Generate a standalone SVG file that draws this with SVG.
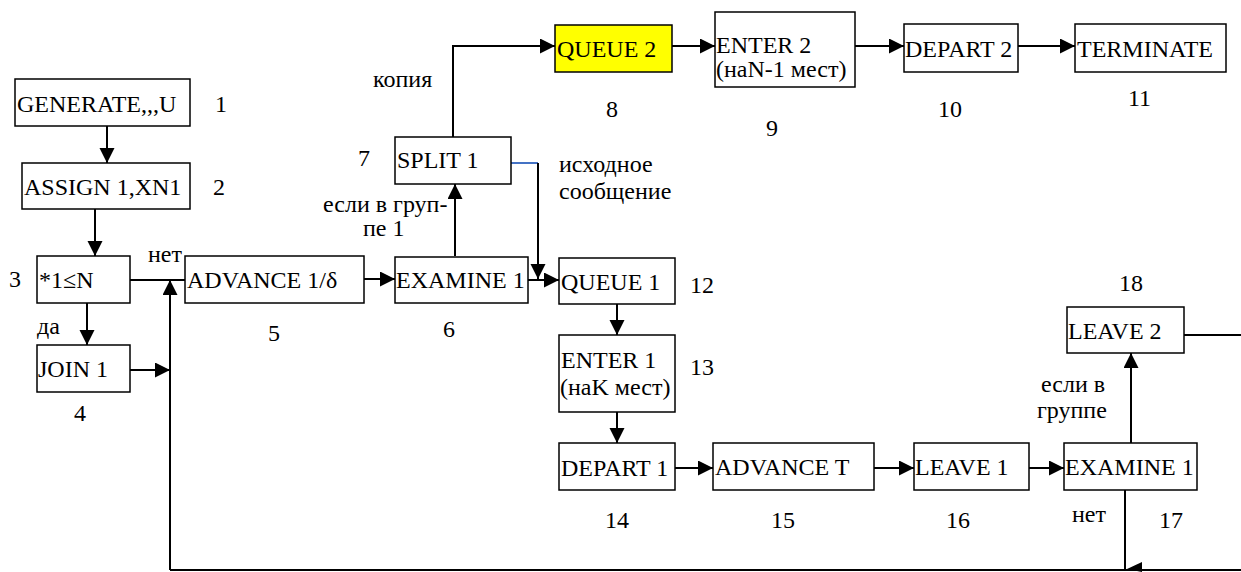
<svg xmlns="http://www.w3.org/2000/svg" width="1241" height="572" viewBox="0 0 1241 572">
<defs>
<marker id="ah" markerUnits="userSpaceOnUse" markerWidth="16" markerHeight="16" refX="15" refY="7.5" orient="auto">
<path d="M0,0 L15,7.5 L0,15 z" fill="#000"/>
</marker>
</defs>
<style>
.t text{font-family:"Liberation Serif","Times New Roman",serif;font-size:24px;fill:#000}
.box rect{fill:#fff;stroke:#000;stroke-width:1.5}
.ln{fill:none;stroke:#000;stroke-width:2}
.ar{fill:none;stroke:#000;stroke-width:2;marker-end:url(#ah)}
</style>
<rect width="1241" height="572" fill="#fff"/>
<g id="connectors">
<path class="ar" d="M107,126 V163"/>
<path class="ar" d="M95,209 V256"/>
<path class="ar" d="M87,303 V345"/>
<path class="ln" d="M130,280 H185"/>
<path class="ar" d="M130,370 H170"/>
<path class="ar" d="M170,570 V280"/>
<path class="ar" d="M364,279 H395"/>
<path class="ar" d="M455,256 V184"/>
<path class="ar" d="M453,137 V46 H555"/>
<path d="M511,163 H538" fill="none" stroke="#4472C4" stroke-width="2"/>
<path class="ar" d="M538,163 V279"/>
<path class="ar" d="M528,280 H559"/>
<path class="ar" d="M672,46 H715"/>
<path class="ar" d="M855,46 H904"/>
<path class="ar" d="M1018,46 H1075"/>
<path class="ar" d="M617,304 V335"/>
<path class="ar" d="M617,412 V443"/>
<path class="ar" d="M675,468 H713"/>
<path class="ar" d="M874,468 H914"/>
<path class="ar" d="M1029,468 H1064"/>
<path class="ar" d="M1131,443 V353"/>
<path class="ln" d="M1125,490 V570"/>
<path class="ln" d="M170,570 H1241"/>
<path class="ln" d="M1184,335 H1241"/>
<polygon points="1127,569 1142,562 1142,572" fill="#000"/>
</g>
<g class="t">
<g id="n1" class="box"><rect x="15" y="79" width="175" height="47"/><text x="17" y="112">GENERATE,,,U</text></g>
<g id="n2" class="box"><rect x="22" y="163" width="168" height="46"/><text x="24" y="195">ASSIGN 1,XN1</text></g>
<g id="n3" class="box"><rect x="37" y="256" width="93" height="47"/><text x="39" y="288">*1≤N</text></g>
<g id="n4" class="box"><rect x="37" y="345" width="93" height="47"/><text x="38" y="377">JOIN 1</text></g>
<g id="n5" class="box"><rect x="185" y="256" width="179" height="47"/><text x="187" y="288">ADVANCE 1/δ</text></g>
<g id="n6" class="box"><rect x="395" y="257" width="133" height="46"/><text x="396" y="288">EXAMINE 1</text></g>
<g id="n7" class="box"><rect x="395" y="137" width="116" height="47"/><text x="397" y="168">SPLIT 1</text></g>
<g id="n8" class="box"><rect x="555" y="25" width="117" height="47" style="fill:#ffff00"/><text x="557" y="57">QUEUE 2</text></g>
<g id="n9" class="box"><rect x="715" y="12" width="140" height="75"/><text x="716" y="53">ENTER 2</text><text x="716" y="77">(наN-1 мест)</text></g>
<g id="n10" class="box"><rect x="904" y="24" width="114" height="48"/><text x="905" y="57">DEPART 2</text></g>
<g id="n11" class="box"><rect x="1075" y="24" width="151" height="48"/><text x="1077" y="57">TERMINATE</text></g>
<g id="n12" class="box"><rect x="559" y="258" width="116" height="46"/><text x="561" y="290">QUEUE 1</text></g>
<g id="n13" class="box"><rect x="559" y="335" width="116" height="77"/><text x="561" y="368">ENTER 1</text><text x="560" y="395">(наK мест)</text></g>
<g id="n14" class="box"><rect x="559" y="443" width="116" height="47"/><text x="561" y="476">DEPART 1</text></g>
<g id="n15" class="box"><rect x="713" y="443" width="161" height="47"/><text x="715" y="475">ADVANCE T</text></g>
<g id="n16" class="box"><rect x="914" y="443" width="115" height="47"/><text x="915" y="475">LEAVE 1</text></g>
<g id="n17" class="box"><rect x="1064" y="443" width="133" height="47"/><text x="1065" y="475">EXAMINE 1</text></g>
<g id="n18" class="box"><rect x="1067" y="307" width="117" height="46"/><text x="1068" y="339">LEAVE 2</text></g>
<g id="labels">
<text x="215" y="112">1</text>
<text x="213" y="195">2</text>
<text x="9" y="287">3</text>
<text x="74" y="421">4</text>
<text x="268" y="341">5</text>
<text x="443" y="337">6</text>
<text x="358" y="166">7</text>
<text x="606" y="117">8</text>
<text x="766" y="136">9</text>
<text x="938" y="117">10</text>
<text x="1128" y="106">11</text>
<text x="690" y="293">12</text>
<text x="690" y="375">13</text>
<text x="605" y="528">14</text>
<text x="771" y="528">15</text>
<text x="946" y="528">16</text>
<text x="1159" y="528">17</text>
<text x="1119" y="291">18</text>
<text x="148" y="262">нет</text>
<text x="37" y="334">да</text>
<text x="373" y="87">копия</text>
<text x="323" y="212">если в груп-</text>
<text x="363" y="236">пе 1</text>
<text x="559" y="172">исходное</text>
<text x="559" y="199">сообщение</text>
<text x="1041" y="392">если в</text>
<text x="1037" y="418">группе</text>
<text x="1072" y="522">нет</text>
</g>
</g>
</svg>
